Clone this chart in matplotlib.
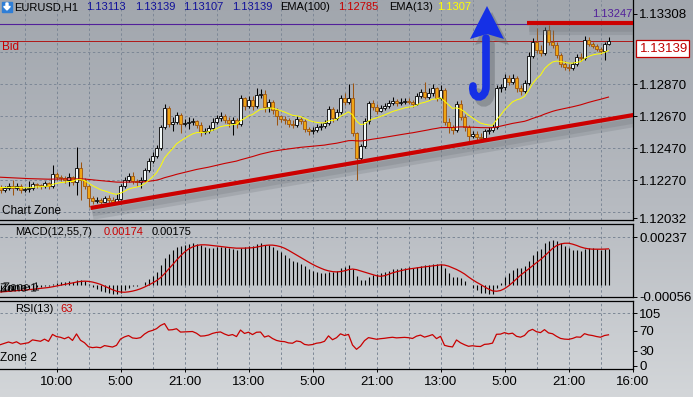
import numpy as np
import matplotlib
matplotlib.use('Agg')
from matplotlib import pyplot as plt
from matplotlib.patches import Rectangle, Polygon, PathPatch
from matplotlib.path import Path
from matplotlib.colors import LinearSegmentedColormap
import matplotlib.patheffects as pe

W, H = 693, 397
PLOT_R = 633

# EURUSD H1 bars, open of each bar = previous close
first_open = 1.12226
closes = [
    1.12208, 1.12220, 1.12233, 1.12220, 1.12233, 1.12208, 1.12214, 1.12220, 1.12245, 1.12239,
    1.12233, 1.12251, 1.12233, 1.12308, 1.12289, 1.12283, 1.12270, 1.12289, 1.12258, 1.12345,
    1.12270, 1.12233, 1.12158, 1.12139, 1.12145, 1.12133, 1.12158, 1.12145, 1.12133, 1.12151,
    1.12233, 1.12270, 1.12295, 1.12264, 1.12258, 1.12270, 1.12333, 1.12389, 1.12420, 1.12470,
    1.12601, 1.12720, 1.12620, 1.12633, 1.12676, 1.12620, 1.12626, 1.12633, 1.12639, 1.12614,
    1.12570, 1.12576, 1.12595, 1.12633, 1.12658, 1.12670, 1.12645, 1.12626, 1.12645, 1.12620,
    1.12783, 1.12733, 1.12770, 1.12733, 1.12801, 1.12808, 1.12726, 1.12758, 1.12708, 1.12670,
    1.12651, 1.12645, 1.12620, 1.12614, 1.12651, 1.12639, 1.12589, 1.12576, 1.12583, 1.12601,
    1.12608, 1.12626, 1.12714, 1.12658, 1.12695, 1.12783, 1.12758, 1.12783, 1.12564, 1.12408,
    1.12483, 1.12639, 1.12751, 1.12726, 1.12701, 1.12720, 1.12733, 1.12751, 1.12764, 1.12751,
    1.12758, 1.12764, 1.12758, 1.12745, 1.12795, 1.12820, 1.12789, 1.12814, 1.12845, 1.12783,
    1.12833, 1.12633, 1.12601, 1.12583, 1.12745, 1.12664, 1.12601, 1.12545, 1.12558, 1.12539,
    1.12533, 1.12576, 1.12583, 1.12601, 1.12845, 1.12851, 1.12908, 1.12883, 1.12908, 1.12845,
    1.12826, 1.12876, 1.13045, 1.13133, 1.13083, 1.13064, 1.13208, 1.13133, 1.13114, 1.13051,
    1.12995, 1.12976, 1.12970, 1.12995, 1.13039, 1.13033, 1.13145, 1.13120, 1.13108, 1.13089,
    1.13076, 1.13120, 1.13139,
]
highs = [
    1.12239, 1.12233, 1.12251, 1.12270, 1.12251, 1.12245, 1.12226, 1.12264, 1.12258, 1.12251,
    1.12245, 1.12264, 1.12258, 1.12364, 1.12320, 1.12301, 1.12295, 1.12314, 1.12295, 1.12476,
    1.12383, 1.12283, 1.12239, 1.12170, 1.12164, 1.12158, 1.12170, 1.12176, 1.12164, 1.12183,
    1.12245, 1.12289, 1.12314, 1.12320, 1.12276, 1.12289, 1.12345, 1.12408, 1.12445, 1.12489,
    1.12614, 1.12745, 1.12733, 1.12664, 1.12695, 1.12689, 1.12651, 1.12664, 1.12658, 1.12645,
    1.12633, 1.12595, 1.12614, 1.12658, 1.12676, 1.12695, 1.12683, 1.12664, 1.12664, 1.12658,
    1.12801, 1.12789, 1.12795, 1.12795, 1.12845, 1.12839, 1.12833, 1.12776, 1.12770, 1.12720,
    1.12676, 1.12670, 1.12658, 1.12645, 1.12670, 1.12664, 1.12651, 1.12601, 1.12601, 1.12620,
    1.12626, 1.12645, 1.12733, 1.12726, 1.12714, 1.12801, 1.12814, 1.12870, 1.12876, 1.12570,
    1.12495, 1.12658, 1.12764, 1.12770, 1.12745, 1.12739, 1.12751, 1.12770, 1.12789, 1.12776,
    1.12783, 1.12783, 1.12783, 1.12770, 1.12814, 1.12839, 1.12883, 1.12845, 1.12870, 1.12851,
    1.12864, 1.12845, 1.12658, 1.12614, 1.12764, 1.12770, 1.12683, 1.12614, 1.12576, 1.12576,
    1.12564, 1.12589, 1.12601, 1.12620, 1.12864, 1.12870, 1.12933, 1.12926, 1.12933, 1.12920,
    1.12864, 1.12895, 1.13070, 1.13158, 1.13220, 1.13114, 1.13226, 1.13239, 1.13208, 1.13133,
    1.13064, 1.13014, 1.12995, 1.13008, 1.13058, 1.13064, 1.13170, 1.13164, 1.13133, 1.13120,
    1.13101, 1.13133, 1.13164,
]
lows = [
    1.12189, 1.12195, 1.12208, 1.12176, 1.12208, 1.12189, 1.12195, 1.12195, 1.12208, 1.12220,
    1.12214, 1.12220, 1.12214, 1.12220, 1.12270, 1.12264, 1.12251, 1.12233, 1.12239, 1.12176,
    1.12145, 1.12214, 1.12101, 1.12120, 1.12126, 1.12114, 1.12133, 1.12126, 1.12120, 1.12126,
    1.12145, 1.12220, 1.12258, 1.12245, 1.12233, 1.12220, 1.12258, 1.12320, 1.12376, 1.12408,
    1.12458, 1.12589, 1.12601, 1.12576, 1.12620, 1.12564, 1.12608, 1.12589, 1.12614, 1.12595,
    1.12545, 1.12558, 1.12564, 1.12583, 1.12620, 1.12639, 1.12626, 1.12601, 1.12551, 1.12595,
    1.12608, 1.12708, 1.12720, 1.12708, 1.12720, 1.12783, 1.12695, 1.12695, 1.12683, 1.12614,
    1.12633, 1.12620, 1.12601, 1.12595, 1.12601, 1.12620, 1.12570, 1.12551, 1.12558, 1.12570,
    1.12583, 1.12595, 1.12614, 1.12633, 1.12645, 1.12683, 1.12739, 1.12745, 1.12545, 1.12270,
    1.12383, 1.12470, 1.12620, 1.12708, 1.12683, 1.12695, 1.12708, 1.12720, 1.12739, 1.12733,
    1.12739, 1.12745, 1.12745, 1.12726, 1.12739, 1.12783, 1.12776, 1.12776, 1.12795, 1.12764,
    1.12770, 1.12614, 1.12564, 1.12558, 1.12570, 1.12645, 1.12576, 1.12508, 1.12533, 1.12520,
    1.12508, 1.12520, 1.12558, 1.12570, 1.12589, 1.12820, 1.12833, 1.12864, 1.12870, 1.12820,
    1.12801, 1.12814, 1.12864, 1.13033, 1.13064, 1.13045, 1.13051, 1.13114, 1.13095, 1.13033,
    1.12976, 1.12958, 1.12951, 1.12958, 1.12983, 1.13014, 1.13020, 1.13108, 1.13095, 1.13076,
    1.13058, 1.13020, 1.13114,
]

# indicator values just before the first visible bar
ema13_seed = 1.12226
ema100_seed = 1.12289
macd_fast_seed = 1.12200
macd_slow_seed = 1.12235
rsi_gain_seed = 0.00010
rsi_loss_seed = 0.00012

time_labels = ['10:00', '5:00', '21:00', '13:00', '5:00', '21:00', '13:00', '5:00', '21:00', '16:00']
time_label_bars = [14, 30, 46, 62, 78, 94, 110, 126, 142, 158]
price_ticks = [1.13308, 1.12870, 1.12670, 1.12470, 1.12270, 1.12032]
price_grid = [1.13070, 1.12870, 1.12670, 1.12470, 1.12270, 1.12070]
macd_ticks = [0.00237, -0.00056]
rsi_ticks = [105, 70, 30, 0]

bid = 1.13139
hline_price = 1.13247
trend_points = [(22.5, 1.12095), (158.2, 1.12676)]
top_segment = [(131.5, 1.13250), (158.2, 1.13250)]

GRID = '#7C8796'
BULL_BODY = '#F2F8F8'
BEAR_BODY = '#EFA514'
BEAR_EDGE = '#9C5410'
RED = '#C80000'
TEXT_FONT = ['Liberation Sans', 'DejaVu Sans']
AXIS_FONT = ['Liberation Sans Narrow', 'Liberation Sans', 'DejaVu Sans']


def ema(values, period, seed):
    k = 2.0 / (period + 1)
    out = []
    prev = seed
    for v in values:
        prev = prev + k * (v - prev)
        out.append(prev)
    return np.array(out)


def rsi(values, period, prev_close, gain, loss):
    out = []
    prev = prev_close
    for v in values:
        d = v - prev
        gain = (gain * (period - 1) + max(d, 0)) / period
        loss = (loss * (period - 1) + max(-d, 0)) / period
        out.append(100 - 100 / (1 + gain / loss))
        prev = v
    return np.array(out)


closes = np.array(closes)
highs = np.array(highs)
lows = np.array(lows)
opens = np.concatenate([[first_open], closes[:-1]])
x = np.arange(len(closes))

ema13 = ema(closes, 13, ema13_seed)
ema100 = ema(closes, 100, ema100_seed)
macd = ema(closes, 12, macd_fast_seed) - ema(closes, 55, macd_slow_seed)
signal = np.array([macd[max(0, i - 6):i + 1].mean() for i in range(len(macd))])
rsi13 = rsi(closes, 13, first_open, rsi_gain_seed, rsi_loss_seed)

fig = plt.figure(figsize=(W / 100, H / 100), dpi=100)

# grey gradient behind everything
bg = fig.add_axes([0, 0, 1, 1], zorder=0)
cmap = LinearSegmentedColormap.from_list('bg', ['#A1A6AD', '#B6BAC0', '#D3D6D9'])
bg.imshow(np.linspace(0, 1, 256).reshape(-1, 1), aspect='auto', cmap=cmap, extent=[0, 1, 0, 1])
bg.axis('off')


def panel(top, bottom, show_top=True):
    ax = fig.add_axes([0, 1 - bottom / H, PLOT_R / W, (bottom - top) / H], zorder=1)
    ax.set_facecolor('none')
    ax.set_xlim(-0.125, 158.125)
    ax.spines['left'].set_visible(False)
    ax.spines['top'].set_visible(show_top)
    for s in ['top', 'right', 'bottom']:
        ax.spines[s].set_linewidth(0.9)
        ax.spines[s].set_color('black')
    ax.yaxis.tick_right()
    ax.tick_params(axis='y', direction='out', length=3, width=0.7, pad=1.5, labelsize=9.5)
    ax.set_xticks([])
    for g in range(6, 158, 8):
        ax.axvline(g, color=GRID, lw=0.7, ls=(0, (2.5, 2.5)), zorder=1)
    return ax


# main price panel
main = panel(0, 220, show_top=False)
main.set_ylim(1.12020, 1.13395)
for p in price_grid:
    main.axhline(p, color=GRID, lw=0.7, ls=(0, (2.5, 2.5)), zorder=1)
main.set_yticks(price_ticks)
main.set_yticklabels(['%.5f' % p for p in price_ticks], family=AXIS_FONT)

up = closes >= opens
body_lo = np.minimum(opens, closes)
body_h = np.abs(closes - opens)
main.vlines(x[up], lows[up], highs[up], color='black', lw=0.75, zorder=3)
main.vlines(x[~up], lows[~up], highs[~up], color=BEAR_EDGE, lw=0.75, zorder=3)
main.bar(x[up], body_h[up], bottom=body_lo[up], width=0.7, color=BULL_BODY,
         edgecolor='black', linewidth=0.6, zorder=4)
main.bar(x[~up], body_h[~up], bottom=body_lo[~up], width=0.7, color=BEAR_BODY,
         edgecolor=BEAR_EDGE, linewidth=0.6, zorder=4)
main.plot(x, ema100, color=RED, lw=0.8, zorder=5)
main.plot(x, ema13, color='#FFFF00', lw=0.7, zorder=5)

main.axhline(hline_price, color='#52209A', lw=0.8, zorder=2)
main.axhline(bid, color='#B01818', lw=0.7, zorder=2)

# soft grey shadow under the drawn lines
shadow = [pe.SimpleLineShadow(offset=(1.5, -4.5), shadow_color='#6A6F75', alpha=0.22, linewidth=8),
          pe.SimpleLineShadow(offset=(1.5, -4), shadow_color='#6A6F75', alpha=0.22, linewidth=4),
          pe.Normal()]
tx, ty = zip(*trend_points)
main.plot(tx, ty, color='#CC0000', lw=3, solid_capstyle='butt', zorder=6, path_effects=shadow)
sx, sy = zip(*top_segment)
main.plot(sx, sy, color='#CC0000', lw=3, solid_capstyle='butt', zorder=6, path_effects=shadow)

# MACD panel
mp = panel(223.5, 296.7)
mp.set_ylim(-0.000539, 0.003046)
mp.axhline(0.00237, color=GRID, lw=0.7, ls=(0, (2.5, 2.5)), zorder=1)
mp.set_yticks(macd_ticks)
mp.set_yticklabels(['%.5f' % v for v in macd_ticks], family=AXIS_FONT)
mp.vlines(x, 0, macd, color='black', lw=0.8, zorder=3)
mp.plot(x, signal, color=RED, lw=0.9, zorder=4)

# RSI panel
rp = panel(300.7, 369)
rp.set_ylim(-6, 130)
rp.axhline(105, color=GRID, lw=0.7, ls=(0, (2.5, 2.5)), zorder=1)
rp.set_yticks(rsi_ticks)
rp.set_yticklabels([str(v) for v in rsi_ticks], family=AXIS_FONT)
rp.plot(x, rsi13, color=RED, lw=0.9, zorder=4)
rp.set_xticks(time_label_bars)
rp.set_xticklabels(time_labels, family=AXIS_FONT)
rp.tick_params(axis='x', direction='out', length=2, width=0.7, pad=3, labelsize=9.5)

# overlay in pixel units for texts and drawn objects
ov = fig.add_axes([0, 0, 1, 1], zorder=5)
ov.set_xlim(0, W)
ov.set_ylim(H, 0)
ov.axis('off')


def label(px, py, s, color='black', size=8, family=TEXT_FONT, effects=None):
    ov.text(px, py, s, color=color, fontsize=size, family=family, ha='left', va='center',
            path_effects=effects)


ov.add_patch(Rectangle((2, 1.5), 10, 10, color='#2F7ED6'))
ov.add_patch(Polygon([(6, 3), (8, 3), (8, 6.5), (10.3, 6.5), (7, 10), (3.7, 6.5), (6, 6.5)], color='white'))
label(14, 7, 'EURUSD,H1')
label(86, 7, '1.13113', color='#10109A')
label(135, 7, '1.13139', color='#10109A')
label(183, 7, '1.13107', color='#10109A')
label(232, 7, '1.13139', color='#10109A')
label(280, 7, 'EMA(100)')
label(338, 7, '1.12785', color=RED)
label(389, 7, 'EMA(13)')
label(437, 7, '1.1307', color='#FFFF00')

label(2, 47.5, 'Bid', color=RED, size=8.5)
label(2, 211, 'Chart Zone', size=8.5)
label(592, 14, '1.13247', color='#52209A')

label(15, 232, 'MACD(12,55,7)')
label(104, 232, '0.00174', color=RED)
label(152, 232, '0.00175')
# the zone caption is printed twice, slightly shifted, in the source
label(0, 288.5, 'Zone 1', size=8.5,
      effects=[pe.SimplePatchShadow(offset=(2, 0.7), shadow_rgbFace='black', alpha=0.9), pe.Normal()])
label(15, 308.5, 'RSI(13)')
label(60, 308.5, '63', color=RED)
label(0, 358, 'Zone 2', size=8.5)

# current bid box on the price scale
ov.add_patch(Rectangle((636, 40), 53, 17, facecolor='white', edgecolor='#C00000', lw=0.9))
ov.text(640, 48.5, '%.5f' % bid, color='#C00000', fontsize=9.5, family=AXIS_FONT, ha='left', va='center')

# hand drawn blue arrow with its shadow
shaft = [(486, 38), (486, 86), (486, 101), (471, 100), (473, 86)]
codes = [Path.MOVETO, Path.LINETO, Path.CURVE4, Path.CURVE4, Path.CURVE4]
head = [(487, 6), (470, 39), (487, 34), (504, 39)]
for dx, dy, col, a in [(5, 6, '#5E6368', 0.4), (0, 0, '#1530E6', 1.0)]:
    pts = [(px + dx, py + dy) for px, py in shaft]
    ov.add_patch(PathPatch(Path(pts, codes), fill=False, lw=5.5, edgecolor=col,
                           alpha=a, capstyle='round'))
    ov.add_patch(Polygon([(px + dx, py + dy) for px, py in head], color=col, alpha=a, lw=0))

fig.savefig('out.png', dpi=100)
